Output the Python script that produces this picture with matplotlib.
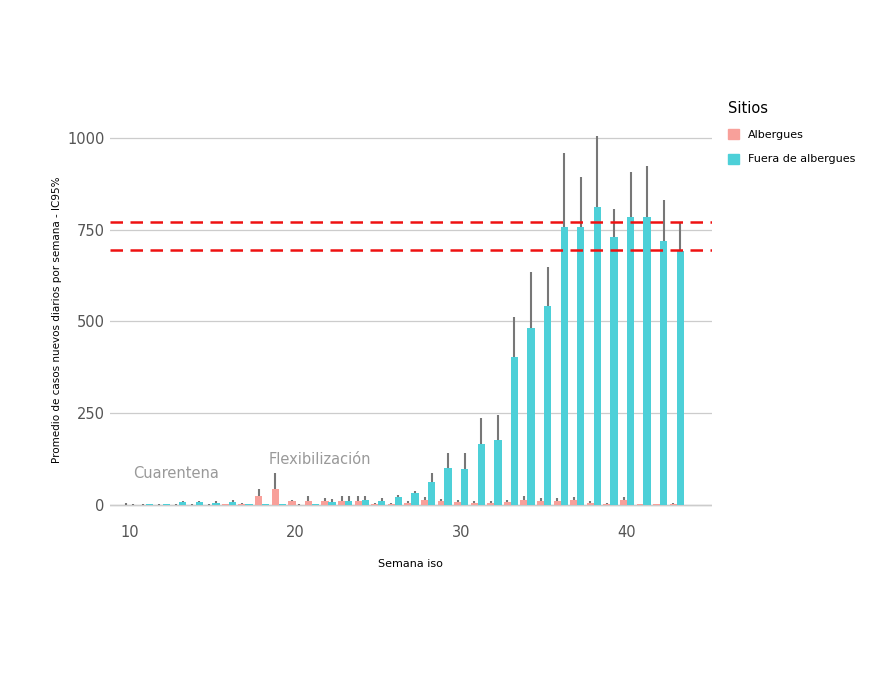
import matplotlib
matplotlib.use("Agg")
import matplotlib.pyplot as plt
from matplotlib.patches import Patch

weeks = list(range(10, 44))
alb = [0, 0, 0, 0, 0, 0, 1, 2, 23, 44, 10, 10, 9, 9, 11, 2, 3, 5, 13, 10, 8, 5, 6, 8, 14, 10, 10, 12, 5, 3, 12, 1, 1, 3]
alb_up = [6, 1, 1, 1, 1, 1, 2, 4, 43, 86, 12, 23, 17, 23, 25, 4, 6, 10, 21, 16, 14, 9, 11, 14, 24, 17, 17, 20, 9, 6, 20, 3, 3, 6]
fuera = [0, 1, 2, 7, 8, 6, 7, 1, 2, 2, 0, 1, 8, 11, 13, 11, 21, 33, 63, 101, 98, 165, 177, 404, 481, 543, 758, 758, 811, 729, 784, 786, 719, 693]
fuera_up = [1, 2, 3, 9, 10, 9, 12, 2, 3, 3, 1, 2, 16, 23, 25, 17, 26, 37, 86, 141, 141, 236, 245, 511, 636, 649, 960, 895, 1005, 806, 908, 925, 831, 770]
ref_lines = [770, 695]

c_alb = "#F8A09A"
c_fue = "#4DD0D8"
fig = plt.figure(figsize=(8.7, 6.75), dpi=100)
ax = fig.add_axes([0.126, 0.23, 0.692, 0.592])
w = 0.44
off = 0.21
xa = [x - off for x in weeks]
xf = [x + off for x in weeks]
ax.bar(xa, alb, width=w, color=c_alb, zorder=2)
ax.bar(xf, fuera, width=w, color=c_fue, zorder=2)
ax.vlines(xa, alb, alb_up, color="#777777", lw=1.5, zorder=3)
ax.vlines(xf, fuera, fuera_up, color="#777777", lw=1.5, zorder=3)
for y in ref_lines:
    ax.axhline(y, color="#EE1111", ls=(0, (5, 3)), lw=1.8, zorder=4)
ax.set_xlim(8.8, 45.1)
ax.set_ylim(-41, 1049)
ax.set_yticks([0, 250, 500, 750, 1000])
ax.set_xticks([10, 20, 30, 40])
ax.grid(axis="y", color="#cccccc", lw=0.9, zorder=0)
ax.axhline(0, color="#bbbbbb", lw=1, zorder=1)
for s in ax.spines.values():
    s.set_visible(False)
ax.tick_params(length=0, labelsize=10.5, colors="#555555")
ax.set_xlabel("Semana iso", fontsize=8, labelpad=14)
ax.set_ylabel("Promedio de casos nuevos diarios por semana - IC95%", fontsize=7.5)
ax.text(12.8, 84, "Cuarentena", color="#999999", fontsize=10.5, ha="center", va="center")
ax.text(21.5, 123, "Flexibilización", color="#999999", fontsize=10.5, ha="center", va="center")
handles = [Patch(color=c_alb, label="Albergues"), Patch(color=c_fue, label="Fuera de albergues")]
leg = fig.legend(handles=handles, title="Sitios", loc="upper left", bbox_to_anchor=(0.825, 0.865),
                 frameon=False, fontsize=8, title_fontsize=10.5, handlelength=1.0, handleheight=1.0,
                 labelspacing=1.2)
leg._legend_box.align = "left"
fig.savefig("out.png", dpi=100)
